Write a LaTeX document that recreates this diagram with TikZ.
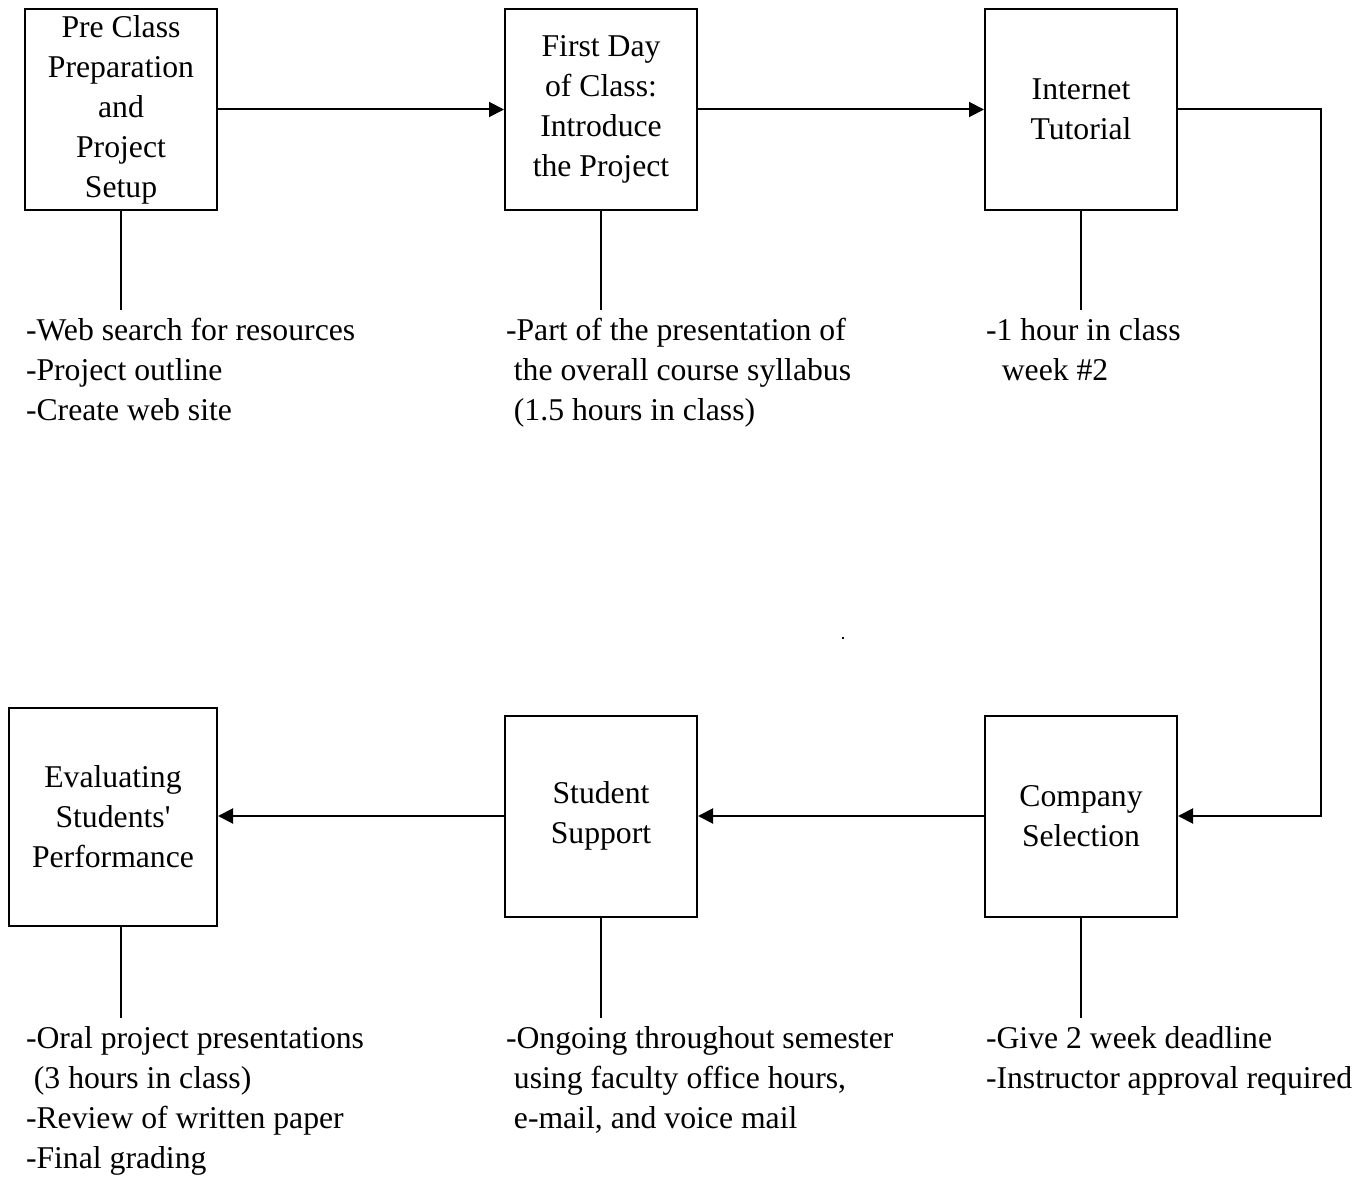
\documentclass[tikz,border=0pt]{standalone}
\usepackage{fontspec}
\setmainfont{Liberation Serif}
\usetikzlibrary{arrows.meta}
\begin{document}
\begin{tikzpicture}[x=1pt,y=-1pt,line width=2pt,
  stepbox/.style={draw,line width=2pt,minimum width=192pt,minimum height=201pt,
    align=center,inner sep=0pt,font=\fontsize{31.7}{40}\selectfont},
  note/.style={anchor=north west,align=left,inner sep=0pt,
    font=\fontsize{31.7}{40}\selectfont},
  arr/.style={-{Triangle[length=15pt,width=15pt]}},
  stem/.style={line width=2pt}]
\useasboundingbox (0,0) rectangle (1361,1177);

% boxes
\node[stepbox] (pre) at (121,109.5) {Pre Class\\Preparation\\and\\Project\\Setup};
\node[stepbox] (first) at (601,109.5) {First Day\\of Class:\\Introduce\\the Project};
\node[stepbox] (inet) at (1081,109.5) {Internet\\Tutorial};
\node[stepbox] (comp) at (1081,816) {Company\\Selection};
\node[stepbox] (supp) at (601,816) {Student\\Support};
\node[stepbox,minimum width=208pt,minimum height=218pt] (eval) at (113,816.5) {Evaluating\\Students\textquotesingle\\Performance};

% arrows
\draw[arr] (pre.east) -- (first.west);
\draw[arr] (first.east) -- (inet.west);
\coordinate (rt) at (1321,109.5);
\coordinate (rb) at (1321,816);
\draw[arr] (inet.east) -- (rt) -- (rb) -- (comp.east);
\draw[arr] (comp.west) -- (supp.east);
\draw[arr] (supp.west) -- (eval.east |- supp.west);

% stems
\coordinate (s1) at (121,310);
\coordinate (s2) at (601,310);
\coordinate (s3) at (1081,310);
\coordinate (s4) at (121,1018);
\coordinate (s5) at (601,1018);
\coordinate (s6) at (1081,1018);
\draw[stem] (pre.south) -- (s1);
\draw[stem] (first.south) -- (s2);
\draw[stem] (inet.south) -- (s3);
\draw[stem] (eval.south -| s4) -- (s4);
\draw[stem] (supp.south) -- (s5);
\draw[stem] (comp.south) -- (s6);

% notes
\node[note] (n1) at (25,311) {\strut-Web search for resources\\-Project outline\\-Create web site};
\node[note] (n2) at (505,311) {\strut-Part of the presentation of\\\hspace*{0.25em}the overall course syllabus\\\hspace*{0.25em}(1.5 hours in class)};
\node[note] (n3) at (985,311) {\strut-1 hour in class\\\hspace*{0.5em}week \#2};
\node[note] (n4) at (25,1019) {\strut-Oral project presentations\\\hspace*{0.25em}(3 hours in class)\\-Review of written paper\\-Final grading};
\node[note] (n5) at (505,1019) {\strut-Ongoing throughout semester\\\hspace*{0.25em}using faculty office hours,\\\hspace*{0.25em}e-mail, and voice mail};
\node[note] (n6) at (985,1019) {\strut-Give 2 week deadline\\-Instructor approval required};

% stray dot
\fill (841.5,636.5) rectangle (844,638.5);
\end{tikzpicture}
\end{document}
